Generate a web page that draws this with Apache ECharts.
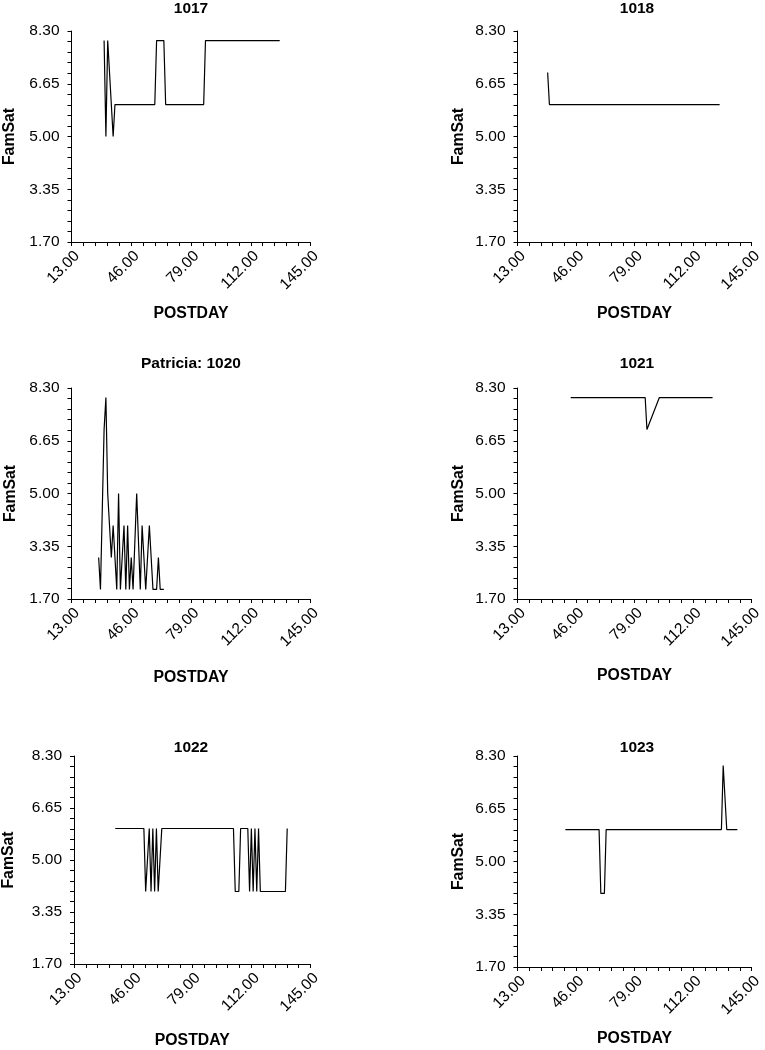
<!DOCTYPE html>
<html><head><meta charset="utf-8">
<script src="https://cdn.jsdelivr.net/npm/echarts@6/dist/echarts.min.js"></script>
<style>html,body{margin:0;padding:0;background:#fff}#c{width:765px;height:1050px}</style>
</head><body><div id="c"></div>
<script>
// ---- data ----
const xTicks = [13, 46, 79, 112, 145];
const yTicks = [1.70, 3.35, 5.00, 6.65, 8.30];
const panelTitles = ['1017', '1018', 'Patricia: 1020', '1021', '1022', '1023'];
const xName = 'POSTDAY';
const yName = 'FamSat';

const days1017 = [31, 32, 33, 36, 37, 59, 60, 64, 65, 86, 87, 128];
const vals1017 = [8, 5, 8, 5, 6, 6, 8, 8, 6, 6, 8, 8];
const days1018 = [30, 31, 127];
const vals1018 = [7, 6, 6];
const days1020 = [28, 29, 31, 32, 33, 34, 35, 36, 38, 39, 40, 42, 43, 44, 45, 46, 47, 49, 51, 52, 53, 54, 55, 56, 58, 60, 61, 62, 64];
const vals1020 = [3, 2, 7, 8, 5, 5, 3, 4, 2, 5, 2, 4, 2, 4, 2, 3, 2, 5, 2, 4, 4, 2, 2, 4, 2, 2, 3, 2, 2];
const days1021 = [43, 85, 86, 93, 123];
const vals1021 = [8, 8, 7, 8, 8];
const days1022 = [36, 52, 53, 54, 55, 56, 57, 58, 59, 60, 61, 62, 102, 103, 105, 106, 110, 111, 112, 113, 114, 115, 116, 117, 131, 132];
const vals1022 = [6, 6, 4, 4, 6, 4, 6, 4, 6, 4, 4, 6, 6, 4, 4, 6, 6, 4, 6, 4, 6, 4, 6, 4, 4, 6];
const days1023 = [40, 59, 60, 62, 63, 128, 129, 130, 131, 137];
const vals1023 = [6, 6, 4, 4, 6, 6, 8, 8, 6, 6];

const seriesDays = [days1017, days1018, days1020, days1021, days1022, days1023];
const seriesVals = [vals1017, vals1018, vals1020, vals1021, vals1022, vals1023];

// ---- layout ----
const colLeft = [71.5, 517.5];
const rowTop = [31, 388, 756];
const plotW = 239, plotH = 211;
const titleY = [1, 356, 740];
const xNameGap = [64, 63.5, 71, 68.5, 69, 63.5];
const yNameGap = [53.5, 50.5, 53, 50.5, 57, 50.5];
const FONT = '"Liberation Sans", Arial, Helvetica, sans-serif';

function minorTicks(majors) {
  const out = [];
  for (let i = 0; i < majors.length - 1; i++) {
    const step = (majors[i + 1] - majors[i]) / 5;
    for (let k = 0; k < 5; k++) out.push(+(majors[i] + k * step).toFixed(4));
  }
  out.push(majors[majors.length - 1]);
  return out;
}
const xAllTicks = minorTicks(xTicks);
const yAllTicks = minorTicks(yTicks);

const grids = [], xAxes = [], yAxes = [], series = [], graphics = [];
for (let i = 0; i < 6; i++) {
  const c = i % 2, r = Math.floor(i / 2);
  const left = colLeft[c], top = rowTop[r];
  grids.push({ left: left, top: top, width: plotW, height: plotH });
  const common = {
    gridIndex: i, type: 'value',
    axisLine: { show: true, onZero: false, lineStyle: { color: '#000', width: 1 } },
    splitLine: { show: false },
    nameLocation: 'middle',
    nameTextStyle: { fontFamily: FONT, fontWeight: 'bold', fontSize: 15.8, color: '#000' }
  };
  xAxes.push(Object.assign({}, common, {
    min: xTicks[0], max: xTicks[xTicks.length - 1],
    axisTick: { show: true, customValues: xAllTicks, length: 4, lineStyle: { color: '#000', width: 1 } },
    axisLabel: { customValues: xTicks, rotate: 45, margin: 6, align: 'right', verticalAlign: 'top',
      color: '#000', fontFamily: FONT, fontSize: 15.5,
      formatter: v => v.toFixed(2) },
    name: xName, nameGap: xNameGap[i]
  }));
  yAxes.push(Object.assign({}, common, {
    min: yTicks[0], max: yTicks[yTicks.length - 1],
    axisTick: { show: true, customValues: yAllTicks, length: 4, lineStyle: { color: '#000', width: 1 } },
    axisLabel: { customValues: yTicks, margin: 12, color: '#000', fontFamily: FONT, fontSize: 15.5,
      formatter: v => v.toFixed(2) },
    name: yName, nameGap: yNameGap[i]
  }));
  series.push({
    type: 'line', xAxisIndex: i, yAxisIndex: i,
    data: seriesDays[i].map((d, k) => [d, seriesVals[i][k]]),
    showSymbol: false, symbol: 'none',
    lineStyle: { color: '#000', width: 1.2 },
    itemStyle: { color: '#000' }
  });
  graphics.push({
    type: 'text', x: left + plotW / 2, y: titleY[r],
    style: { text: panelTitles[i], textAlign: 'center', textVerticalAlign: 'top',
      fontFamily: FONT, fontWeight: 'bold', fontSize: 15.5, fill: '#000' }
  });
}

const chart = echarts.init(document.getElementById('c'), null, { renderer: 'canvas' });
chart.setOption({
  animation: false,
  backgroundColor: '#fff',
  grid: grids, xAxis: xAxes, yAxis: yAxes, series: series,
  graphic: graphics
});
</script></body></html>
